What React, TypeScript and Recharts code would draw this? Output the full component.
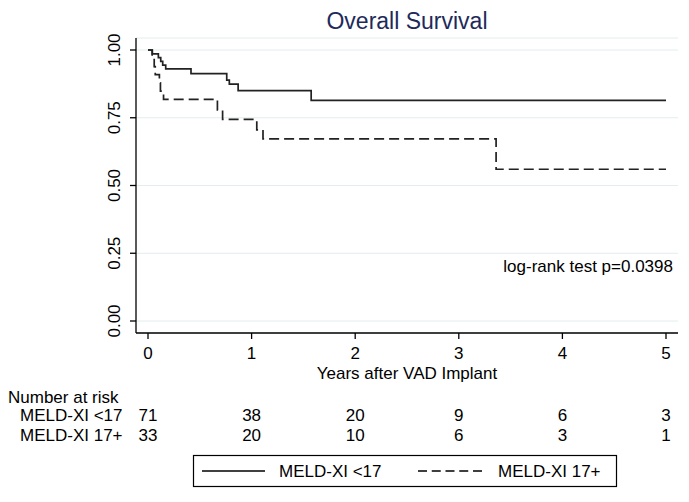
import React from 'react';
import { LineChart, Line, XAxis, YAxis, CartesianGrid } from 'recharts';

const FONT = '"Liberation Sans", Arial, Helvetica, sans-serif';

const seriesNames = ['MELD-XI <17', 'MELD-XI 17+'];
const xTicks = [0, 1, 2, 3, 4, 5];
const yTicks = [0, 0.25, 0.5, 0.75, 1];

const lowTimes = [0, 0.042, 0.1, 0.123, 0.142, 0.171, 0.415, 0.76, 0.785, 0.87, 1.575, 5.0];
const lowSurv = [1, 0.986, 0.972, 0.958, 0.944, 0.93, 0.913, 0.889, 0.874, 0.85, 0.814, 0.814];

const highTimes = [0, 0.04, 0.06, 0.07, 0.11, 0.12, 0.15, 0.67, 0.72, 1.05, 1.11, 3.36, 5.0];
const highSurv = [1, 0.97, 0.939, 0.909, 0.879, 0.848, 0.818, 0.779, 0.744, 0.705, 0.672, 0.56, 0.56];

const riskLow = [71, 38, 20, 9, 6, 3];
const riskHigh = [33, 20, 10, 6, 3, 1];

const title = 'Overall Survival';
const xLabel = 'Years after VAD Implant';
const riskHeader = 'Number at risk';
const logRank = 'log-rank test p=0.0398';

const lowData = lowTimes.map((t, i) => ({ t, s: lowSurv[i] }));
const highData = highTimes.map((t, i) => ({ t, s: highSurv[i] }));

const TXT = { fontFamily: FONT, fontSize: 17, fill: '#000' };

const YTick = (props: any) => {
  const { x, y, payload } = props;
  const bx = x - 8;
  return (
    <text x={bx} y={y} transform={`rotate(-90 ${bx} ${y})`} textAnchor="middle" {...TXT}>
      {Number(payload.value).toFixed(2)}
    </text>
  );
};

const RiskTick = (props: any) => {
  const { x, y, payload } = props;
  const i = xTicks.indexOf(payload.value);
  return (
    <g>
      <text x={x} y={y + 38} textAnchor="middle" {...TXT}>{riskLow[i]}</text>
      <text x={x} y={y + 58} textAnchor="middle" {...TXT}>{riskHigh[i]}</text>
    </g>
  );
};

const RiskLabels = (props: any) => {
  const vb = props.viewBox || { y: 383 };
  const y = vb.y;
  return (
    <g>
      <text x={8} y={y + 20} {...TXT}>{riskHeader}</text>
      <text x={20} y={y + 38} {...TXT}>{seriesNames[0]}</text>
      <text x={20} y={y + 58} {...TXT}>{seriesNames[1]}</text>
    </g>
  );
};

const XLabel = (props: any) => {
  const vb = props.viewBox || { x: 136, y: 333, width: 542 };
  return (
    <text x={vb.x + vb.width / 2} y={vb.y + 46} textAnchor="middle" {...TXT}>{xLabel}</text>
  );
};

export default function App() {
  return (
    <div style={{ position: 'absolute', left: 0, top: 0, width: 689, height: 502, background: '#fff' }}>
      <LineChart width={689} height={502} margin={{ top: 38, right: 11, left: 96, bottom: 49 }}>
        <CartesianGrid horizontal vertical={false} stroke="#e3ecee" strokeWidth={1} yAxisId="y" xAxisId="main" />
        <XAxis
          xAxisId="main"
          dataKey="t"
          type="number"
          domain={[0, 5]}
          allowDataOverflow
          ticks={xTicks}
          padding={{ left: 12, right: 12 }}
          height={50}
          tickSize={6}
          tickMargin={8}
          tick={{ ...TXT }}
          stroke="#000"
          strokeWidth={1.3}
          label={{ content: XLabel }}
        />
        <XAxis
          xAxisId="risk"
          dataKey="t"
          type="number"
          domain={[0, 5]}
          allowDataOverflow
          ticks={xTicks}
          padding={{ left: 12, right: 12 }}
          height={70}
          axisLine={false}
          tickLine={false}
          tickSize={0}
          tickMargin={0}
          tick={<RiskTick />}
          label={{ content: RiskLabels }}
        />
        <YAxis
          yAxisId="y"
          type="number"
          domain={[0, 1]}
          ticks={yTicks}
          padding={{ top: 12, bottom: 12 }}
          width={40}
          tickSize={6}
          tickMargin={2}
          tick={<YTick />}
          stroke="#000"
          strokeWidth={1.3}
        />
        <Line
          xAxisId="main"
          yAxisId="y"
          data={lowData}
          dataKey="s"
          type="stepAfter"
          stroke="#222"
          strokeWidth={1.7}
          dot={false}
          activeDot={false}
          isAnimationActive={false}
          name={seriesNames[0]}
        />
        <Line
          xAxisId="main"
          yAxisId="y"
          data={highData}
          dataKey="s"
          type="stepAfter"
          stroke="#222"
          strokeWidth={1.7}
          strokeDasharray="10 5"
          dot={false}
          activeDot={false}
          isAnimationActive={false}
          name={seriesNames[1]}
        />
        <text x={407} y={29} textAnchor="middle" fontFamily={FONT} fontSize={23} fill="#1e2a5a">{title}</text>
        <text x={673} y={272} textAnchor="end" {...TXT}>{logRank}</text>
        <g>
          <rect x={193.5} y={455.5} width={423} height={31} fill="#fff" stroke="#000" strokeWidth={1.2} />
          <line x1={202} x2={265} y1={471} y2={471} stroke="#000" strokeWidth={1.3} />
          <text x={279} y={477} {...TXT}>{seriesNames[0]}</text>
          <line x1={418} x2={482} y1={471} y2={471} stroke="#000" strokeWidth={1.3} strokeDasharray="9 4.75" />
          <text x={498} y={477} {...TXT}>{seriesNames[1]}</text>
        </g>
      </LineChart>
    </div>
  );
}
